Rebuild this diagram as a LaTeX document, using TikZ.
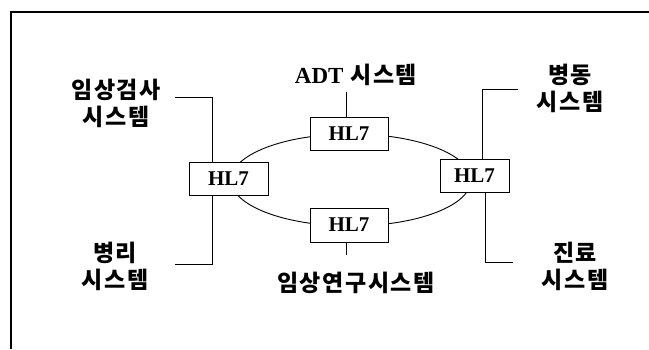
\documentclass[tikz,border=0pt]{standalone}
\usepackage{fontspec}
\setmainfont{Liberation Serif}
\newfontfamily\kr[LetterSpace=7]{Noto Sans CJK KR}
\usetikzlibrary{positioning, calc}

\begin{document}
\begin{tikzpicture}[
		x=1pt, y=-1pt,
		% Estilos
		hlbox/.style={draw, rectangle, line width=0.9pt, minimum height=33pt, inner sep=0pt, fill=white, font=\fontsize{21}{21}\selectfont\bfseries},
		syslabel/.style={align=center, inner sep=0pt, font=\fontsize{23}{27}\selectfont\kr\bfseries},
		line/.style={draw, line width=0.9pt}
		]
		
		\useasboundingbox (0,0) rectangle (649,349);
		
		% --- MARCO ---
		\draw [line width=1.3pt] (649,12) -- (11,12) -- (11,349);
		
		% --- ANILLO ---
		\draw [line] (351,180) ellipse [x radius=120pt, y radius=46pt];
		
		% --- NODOS HL7 ---
		\node [hlbox, minimum width=78pt] (hltop) at (349,133.5) {HL7};
		\node [hlbox, minimum width=79pt] (hlleft) at (228.5,178.5) {HL7};
		\node [hlbox, minimum width=69pt] (hlright) at (474.5,175.5) {HL7};
		\node [hlbox, minimum width=78pt, minimum height=34pt] (hlbot) at (349,225) {HL7};
		
		% --- SISTEMAS ---
		\node [syslabel] (adt) at (356,75) {{\rmfamily ADT} 시스템};
		\node [syslabel] (imsang) at (116,103) {임상검사\\시스템};
		\node [syslabel] (byeongri) at (115,266) {병리\\시스템};
		\node [syslabel] (yeongu) at (356,283) {임상연구시스템};
		\node [syslabel] (byeongdong) at (570,88) {병동\\시스템};
		\node [syslabel] (jillyo) at (575,266) {진료\\시스템};
		
		% --- CONEXIONES ---
		\coordinate (adtend) at (346,92);
		\coordinate (botend) at (346,255);
		\coordinate (ltend) at (175,97);
		\coordinate (lbend) at (175,264);
		\coordinate (rtend) at (518,89);
		\coordinate (rbend) at (513,262);
		
		\draw [line] (adtend) -- (adtend |- hltop.north);
		\draw [line] (botend |- hlbot.south) -- (botend);
		\draw [line] (ltend) -| ([xshift=-16.5pt]hlleft.north);
		\draw [line] ([xshift=-16.5pt]hlleft.south) |- (lbend);
		\draw [line] (rtend) -| ([xshift=7.5pt]hlright.north);
		\draw [line] ([xshift=10.5pt]hlright.south) |- (rbend);
		
	\end{tikzpicture}
\end{document}
